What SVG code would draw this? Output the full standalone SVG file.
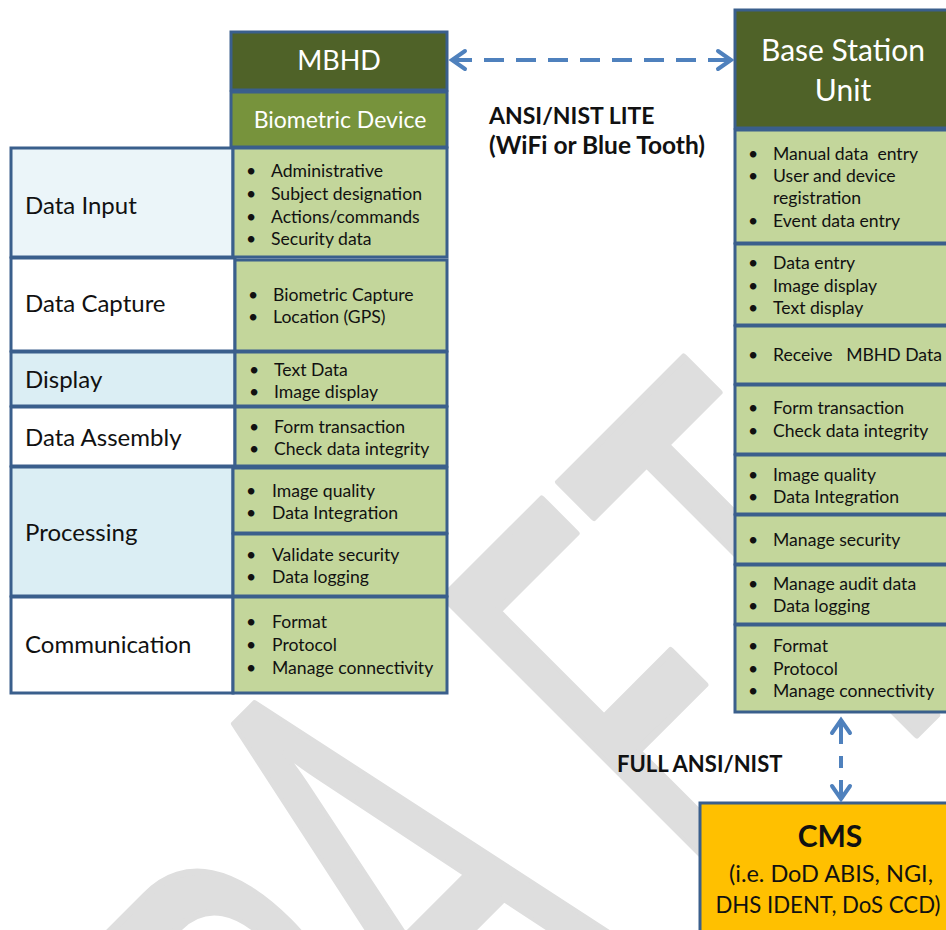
<svg xmlns="http://www.w3.org/2000/svg" width="946" height="930" viewBox="0 0 946 930">
<style>
.bd{stroke:#3A5F8C;stroke-width:3}
.hdr{fill:#4F6228}
.mid{fill:#77933C}
.lg{fill:#C3D69B}
.lb1{fill:#EBF5F9}
.lb2{fill:#DBEEF4}
.wh{fill:#FFFFFF}
text{font-family:Lato,"Open Sans","Liberation Sans",sans-serif;fill:#111}
.ht{fill:#FFFFFF;font-size:27px;text-anchor:middle}
.ht2{fill:#FFFFFF;font-size:30px;text-anchor:middle}
.st{fill:#FFFFFF;font-size:23px;text-anchor:middle}
.lab{font-size:24px}
.bl{font-size:17.6px;white-space:pre}
.bold{font-weight:bold}
.conn{stroke:#4F81BD;stroke-width:4;fill:none}
</style>
<defs>
<marker id="chev" viewBox="-20 -14 26 28" refX="0" refY="0" markerWidth="26" markerHeight="28" markerUnits="userSpaceOnUse" orient="auto-start-reverse">
<path d="M-13,-9 L0,0 L-13,9" fill="none" stroke="#4F81BD" stroke-width="4" stroke-linejoin="miter" stroke-linecap="round"/>
</marker>
</defs>
<rect width="946" height="930" fill="#FFFFFF"/>
<g id="watermark" transform="rotate(-45) scale(1,1.88)">
<text x="-848 -624 -440 -139 48" y="621 621 590 621 621" style="font-family:Lato,'Open Sans',sans-serif;font-size:320px;fill:#DEDEDE;stroke:#DEDEDE;stroke-width:4;stroke-linejoin:round">DRAFT</text>
</g>

<g id="mbhd">
<rect class="bd hdr" x="231" y="32" width="216" height="58"/>
<text class="ht" x="339" y="70">MBHD</text>
</g>
<g id="biometric-device">
<rect class="bd mid" x="231" y="92" width="216" height="55"/>
<text class="st" x="340" y="128">Biometric Device</text>
</g>

<g id="data-input">
<rect class="bd lb1" x="11" y="148" width="222" height="109"/>
<text class="lab" x="25" y="214">Data Input</text>
<rect class="bd lg" x="233" y="148" width="214" height="109"/>
<text class="bl"><tspan x="246" y="177">•</tspan><tspan x="271" y="177">Administrative</tspan><tspan x="246" y="200">•</tspan><tspan x="271" y="200">Subject designation</tspan><tspan x="246" y="223">•</tspan><tspan x="271" y="223">Actions/commands</tspan><tspan x="246" y="245">•</tspan><tspan x="271" y="245">Security data</tspan></text>
</g>
<g id="data-capture">
<rect class="bd wh" x="11" y="258" width="224" height="93"/>
<text class="lab" x="25" y="312">Data Capture</text>
<rect class="bd lg" x="235" y="260" width="212" height="91"/>
<text class="bl"><tspan x="248" y="301">•</tspan><tspan x="273" y="301">Biometric Capture</tspan><tspan x="248" y="323">•</tspan><tspan x="273" y="323">Location (GPS)</tspan></text>
</g>
<g id="display">
<rect class="bd lb2" x="11" y="352" width="224" height="54"/>
<text class="lab" x="25" y="388">Display</text>
<rect class="bd lg" x="235" y="352" width="212" height="54"/>
<text class="bl"><tspan x="249" y="376">•</tspan><tspan x="274" y="376">Text Data</tspan><tspan x="249" y="398">•</tspan><tspan x="274" y="398">Image display</tspan></text>
</g>
<g id="data-assembly">
<rect class="bd wh" x="11" y="407" width="224" height="59"/>
<text class="lab" x="25" y="446">Data Assembly</text>
<rect class="bd lg" x="235" y="407" width="212" height="59"/>
<text class="bl"><tspan x="249" y="433">•</tspan><tspan x="274" y="433">Form transaction</tspan><tspan x="249" y="455">•</tspan><tspan x="274" y="455">Check data integrity</tspan></text>
</g>
<g id="processing">
<rect class="bd lb2" x="11" y="467" width="222" height="129"/>
<text class="lab" x="25" y="541">Processing</text>
<rect class="bd lg" x="233" y="468" width="214" height="65"/>
<text class="bl"><tspan x="246" y="497">•</tspan><tspan x="272" y="497">Image quality</tspan><tspan x="246" y="519">•</tspan><tspan x="272" y="519">Data Integration</tspan></text>
<rect class="bd lg" x="233" y="534" width="214" height="62"/>
<text class="bl"><tspan x="246" y="561">•</tspan><tspan x="272" y="561">Validate security</tspan><tspan x="246" y="583">•</tspan><tspan x="272" y="583">Data logging</tspan></text>
</g>
<g id="communication">
<rect class="bd wh" x="11" y="597" width="222" height="96"/>
<text class="lab" x="25" y="653">Communication</text>
<rect class="bd lg" x="233" y="597" width="214" height="96"/>
<text class="bl"><tspan x="246" y="628">•</tspan><tspan x="272" y="628">Format</tspan><tspan x="246" y="651">•</tspan><tspan x="272" y="651">Protocol</tspan><tspan x="246" y="674">•</tspan><tspan x="272" y="674">Manage connectivity</tspan></text>
</g>

<g id="base-station-unit">
<rect class="bd hdr" x="735" y="10" width="216" height="118"/>
<text class="ht2" x="843" y="61">Base Station</text>
<text class="ht2" x="843" y="101">Unit</text>
<rect class="bd lg" x="735" y="130" width="216" height="113"/>
<text class="bl"><tspan x="748" y="160">•</tspan><tspan x="773" y="160">Manual data  entry</tspan><tspan x="748" y="182">•</tspan><tspan x="773" y="182">User and device</tspan><tspan x="773" y="204">registration</tspan><tspan x="748" y="227">•</tspan><tspan x="773" y="227">Event data entry</tspan></text>
<rect class="bd lg" x="735" y="244" width="216" height="81"/>
<text class="bl"><tspan x="748" y="269">•</tspan><tspan x="773" y="269">Data entry</tspan><tspan x="748" y="292">•</tspan><tspan x="773" y="292">Image display</tspan><tspan x="748" y="314">•</tspan><tspan x="773" y="314">Text display</tspan></text>
<rect class="bd lg" x="735" y="326" width="216" height="58"/>
<text class="bl"><tspan x="748" y="361">•</tspan><tspan x="773" y="361">Receive   MBHD Data</tspan></text>
<rect class="bd lg" x="735" y="385" width="216" height="69"/>
<text class="bl"><tspan x="748" y="414">•</tspan><tspan x="773" y="414">Form transaction</tspan><tspan x="748" y="437">•</tspan><tspan x="773" y="437">Check data integrity</tspan></text>
<rect class="bd lg" x="735" y="455" width="216" height="59"/>
<text class="bl"><tspan x="748" y="481">•</tspan><tspan x="773" y="481">Image quality</tspan><tspan x="748" y="503">•</tspan><tspan x="773" y="503">Data Integration</tspan></text>
<rect class="bd lg" x="735" y="515" width="216" height="49"/>
<text class="bl"><tspan x="748" y="546">•</tspan><tspan x="773" y="546">Manage security</tspan></text>
<rect class="bd lg" x="735" y="565" width="216" height="59"/>
<text class="bl"><tspan x="748" y="590">•</tspan><tspan x="773" y="590">Manage audit data</tspan><tspan x="748" y="612">•</tspan><tspan x="773" y="612">Data logging</tspan></text>
<rect class="bd lg" x="735" y="625" width="216" height="87"/>
<text class="bl"><tspan x="748" y="652">•</tspan><tspan x="773" y="652">Format</tspan><tspan x="748" y="675">•</tspan><tspan x="773" y="675">Protocol</tspan><tspan x="748" y="697">•</tspan><tspan x="773" y="697">Manage connectivity</tspan></text>
</g>

<g id="cms">
<rect class="bd" x="700" y="803" width="262" height="140" fill="#FFC000"/>
<text class="bold" x="830" y="847" text-anchor="middle" font-size="30">CMS</text>
<text x="831" y="882" text-anchor="middle" font-size="23.5">(i.e. DoD ABIS, NGI,</text>
<text x="828" y="913" text-anchor="middle" font-size="22.2">DHS IDENT, DoS CCD)</text>
</g>

<g id="connectors">
<line class="conn" x1="452" y1="60" x2="731" y2="60" stroke-dasharray="20 12" marker-start="url(#chev)" marker-end="url(#chev)"/>
<line class="conn" x1="841" y1="720" x2="841" y2="799" stroke-dasharray="24 12 12 12" marker-start="url(#chev)" marker-end="url(#chev)"/>
</g>

<g id="labels">
<text class="bold" x="489" y="124" font-size="23">ANSI/NIST LITE</text>
<text class="bold" x="489" y="154" font-size="24.5">(WiFi or Blue Tooth)</text>
<text class="bold" x="617" y="772" font-size="22">FULL ANSI/NIST</text>
</g>
</svg>
